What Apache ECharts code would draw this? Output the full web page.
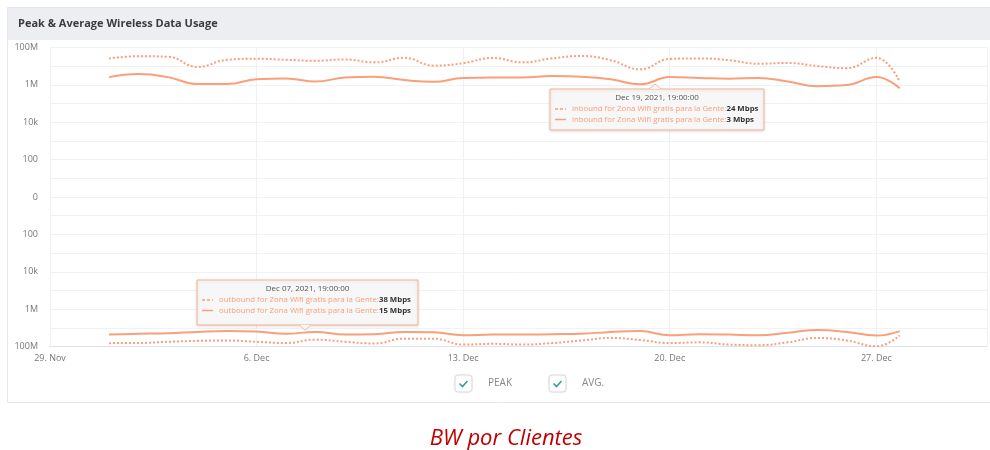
<!DOCTYPE html>
<html>
<head>
<meta charset="utf-8">
<script src="https://cdn.jsdelivr.net/npm/echarts@6/dist/echarts.min.js"></script>
<style>
  html, body { margin: 0; padding: 0; background: #fff; }
  #chart { width: 990px; height: 450px; }
</style>
</head>
<body>
<div id="chart"></div>
<script>
const startDate = '2021-11-29T00:00';
const times = [
  '2021-12-01T00:00', '2021-12-02T00:00', '2021-12-03T00:00', '2021-12-04T00:00',
  '2021-12-05T00:00', '2021-12-06T00:00', '2021-12-07T00:00', '2021-12-08T00:00',
  '2021-12-09T00:00', '2021-12-10T00:00', '2021-12-11T00:00', '2021-12-12T00:00',
  '2021-12-13T00:00', '2021-12-14T00:00', '2021-12-15T00:00', '2021-12-16T00:00',
  '2021-12-17T00:00', '2021-12-18T00:00', '2021-12-19T00:00', '2021-12-20T00:00',
  '2021-12-21T00:00', '2021-12-22T00:00', '2021-12-23T00:00', '2021-12-24T00:00',
  '2021-12-25T00:00', '2021-12-26T00:00', '2021-12-27T00:00', '2021-12-27T19:00'
];
// Mbps
const inboundPeak = [26, 34, 32, 9.1, 22, 25, 22, 19.5, 23, 16, 28, 10.7, 14.5, 27.5,
  16, 26, 35, 21, 6.8, 24.5, 26, 21, 13.5, 14.8, 10.2, 7.8, 28, 1.5];
const inboundAvg = [2.6, 3.8, 2.6, 1.1, 1.1, 2.0, 2.2, 1.5, 2.5, 2.75, 1.8, 1.45, 2.35, 2.45,
  2.45, 3.0, 2.75, 2.0, 1.07, 2.6, 2.35, 2.15, 2.35, 1.5, 0.85, 0.98, 2.6, 0.66];
const outboundPeak = [66, 65, 56, 50, 48, 56, 65, 43, 56, 69, 38, 38, 79, 72,
  79, 66, 48, 35, 45, 65, 60, 79, 85, 60, 35, 48, 98, 26];
const outboundAvg = [23, 21, 19.5, 16.6, 14.8, 15.8, 21, 16.6, 23, 22, 16.6, 17.4, 25, 23,
  23, 22, 21, 16.6, 15, 25, 22, 23, 25, 18.6, 13, 16.6, 26, 15];

const xTickLabels = ['29. Nov', '6. Dec', '13. Dec', '20. Dec', '27. Dec'];
const yTickLabels = ['0', '100', '10k', '1M', '100M'];

const seriesName = 'Zona Wifi gratis para la Gente';
const lineColor = '#fa9f79';

const t0 = Date.parse(startDate);
function dayOffset(t) {
  return (Date.parse(t) - t0) / 864e5;
}
// symmetric log: inbound up, outbound down
function toPoints(values, sign) {
  return values.map((v, i) => [dayOffset(times[i]), sign * Math.log10(v * 1e6)]);
}

const chart = echarts.init(document.getElementById('chart'));

const font = '"Open Sans", sans-serif';

function tipLines(x, y, dir, w, h, arrowX, date, label, peak, avg) {
  const els = [];
  els.push({
    type: 'rect', z: 100,
    shape: { x: x, y: y, width: w, height: h },
    style: { fill: 'rgba(248,248,248,0.95)', stroke: '#f6b394', lineWidth: 1,
      shadowBlur: 3, shadowColor: 'rgba(0,0,0,0.12)', shadowOffsetY: 1 }
  });
  const ay = dir === 'up' ? y : y + h;
  const tip = dir === 'up' ? ay - 5 : ay + 5;
  els.push({
    type: 'polygon', z: 101,
    shape: { points: [[arrowX - 6, ay], [arrowX, tip], [arrowX + 6, ay]] },
    style: { fill: 'rgb(248,248,248)' }
  });
  els.push({
    type: 'polyline', z: 101,
    shape: { points: [[arrowX - 6, ay], [arrowX, tip], [arrowX + 6, ay]] },
    style: { stroke: '#f6b394', lineWidth: 1, fill: null }
  });
  els.push({
    type: 'text', z: 102,
    style: { text: date, x: x + w / 2, y: y + 9, textAlign: 'center', textVerticalAlign: 'middle',
      font: '8px ' + font, fill: '#555' }
  });
  const rows = [[peak, [3, 2]], [avg, null]];
  rows.forEach((r, i) => {
    const ry = y + 20 + i * 10.5;
    els.push({
      type: 'line', z: 102,
      shape: { x1: x + 5, y1: ry, x2: x + 16, y2: ry },
      style: { stroke: lineColor, lineWidth: 1.5, lineDash: r[1] }
    });
    els.push({
      type: 'text', z: 102,
      style: {
        text: '{a|' + label + ':}{b|' + r[0] + '}', x: x + 22, y: ry,
        textVerticalAlign: 'middle',
        rich: {
          a: { fontSize: 7.8, fontFamily: font, fill: lineColor },
          b: { fontSize: 7.8, fontFamily: font, fill: '#333', fontWeight: 'bold' }
        }
      }
    });
  });
  return els;
}

function checkbox(x, y, text) {
  return [
    { type: 'rect', shape: { x: x, y: y, width: 17, height: 17, r: 3 },
      style: { fill: '#fff', stroke: '#dcdcdc', lineWidth: 1,
        shadowBlur: 2, shadowColor: 'rgba(0,0,0,0.08)' } },
    { type: 'polyline', shape: { points: [[x + 4.5, y + 8.5], [x + 7.5, y + 11.5], [x + 12.5, y + 6]] },
      style: { stroke: '#3b9c94', lineWidth: 1.6, fill: null } },
    { type: 'text', style: { text: text, x: x + 33, y: y + 8.5, textVerticalAlign: 'middle',
      font: '10px ' + font, fill: '#888' } }
  ];
}

const graphics = [
  { type: 'rect', z: -1, shape: { x: 7.5, y: 7.5, width: 990, height: 395 },
    style: { fill: null, stroke: '#e4e7eb', lineWidth: 1 } },
  { type: 'rect', z: -1, shape: { x: 8, y: 8, width: 982, height: 32 },
    style: { fill: '#eceef1' } },
  { type: 'text', style: { text: 'Peak & Average Wireless Data Usage', x: 18, y: 23.5,
    textVerticalAlign: 'middle', font: 'bold 11px ' + font, fill: '#3c3c3c' } },
  { type: 'text', style: { text: 'BW por Clientes', x: 506, y: 439, textAlign: 'center',
    textVerticalAlign: 'middle', font: 'italic 22px ' + font, fill: '#c00000' } }
].concat(
  tipLines(550, 89, 'up', 214, 41, 655, 'Dec 19, 2021, 19:00:00',
    'inbound for ' + seriesName, '24 Mbps', '3 Mbps'),
  tipLines(197, 280, 'down', 221, 45, 305, 'Dec 07, 2021, 19:00:00',
    'outbound for ' + seriesName, '38 Mbps', '15 Mbps'),
  checkbox(455, 375, 'PEAK'),
  checkbox(549, 375, 'AVG.')
);

function lineSeries(name, values, sign, dotted) {
  return {
    name: name,
    type: 'line',
    smooth: 0.45,
    symbol: 'none',
    data: toPoints(values, sign),
    lineStyle: { color: lineColor, width: 2, type: dotted ? [2, 2] : 'solid' },
    itemStyle: { color: lineColor }
  };
}

chart.setOption({
  animation: false,
  textStyle: { fontFamily: font },
  grid: { left: 50, right: 2, top: 47.5, bottom: 103.5 },
  xAxis: {
    type: 'value',
    min: 0,
    max: 31.75,
    interval: 7,
    axisLine: { show: true, onZero: false, lineStyle: { color: '#dfe3e8' } },
    axisTick: { show: false },
    axisLabel: {
      color: '#777', fontSize: 9, margin: 7,
      formatter: v => xTickLabels[v / 7] || ''
    },
    splitLine: { show: true, lineStyle: { color: '#eef0f3' } }
  },
  yAxis: {
    type: 'value',
    min: -8,
    max: 8,
    interval: 1,
    axisLine: { show: false },
    axisTick: { show: false },
    axisLabel: {
      color: '#777', fontSize: 9, margin: 12,
      formatter: v => (Math.abs(v) % 2 === 0 ? yTickLabels[Math.abs(v) / 2] : '')
    },
    splitLine: { lineStyle: { color: '#f1f2f4' } }
  },
  series: [
    lineSeries('inbound peak', inboundPeak, 1, true),
    lineSeries('inbound avg', inboundAvg, 1, false),
    lineSeries('outbound peak', outboundPeak, -1, true),
    lineSeries('outbound avg', outboundAvg, -1, false)
  ],
  graphic: { elements: graphics }
});
</script>
</body>
</html>
